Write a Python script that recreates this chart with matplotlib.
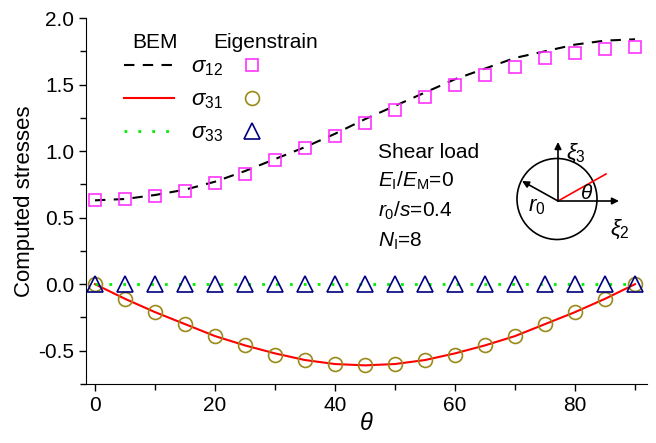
import numpy as np
import matplotlib.pyplot as plt
from matplotlib.lines import Line2D
from matplotlib.patches import Ellipse
from matplotlib.ticker import MultipleLocator

plt.rcParams['font.family'] = ['Liberation Sans', 'DejaVu Sans']
plt.rcParams['mathtext.fontset'] = 'custom'
plt.rcParams['mathtext.rm'] = 'Liberation Sans'
plt.rcParams['mathtext.it'] = 'Liberation Sans:italic'

# angles (deg)
theta = [0, 5, 10, 15, 20, 25, 30, 35, 40, 45, 50, 55, 60, 65, 70, 75, 80, 85, 90]

# BEM curves
bem_s12 = [0.63, 0.64, 0.67, 0.71, 0.77, 0.85, 0.94, 1.03, 1.13, 1.24, 1.34, 1.44,
           1.54, 1.62, 1.70, 1.75, 1.80, 1.83, 1.84]
bem_s31 = [0.0, -0.11, -0.21, -0.30, -0.39, -0.46, -0.52, -0.57, -0.60, -0.61, -0.60,
           -0.57, -0.52, -0.46, -0.39, -0.30, -0.21, -0.11, 0.0]
bem_s33 = [0.0] * 19

# Eigenstrain points
eig_s12 = [0.63, 0.64, 0.66, 0.70, 0.76, 0.83, 0.93, 1.02, 1.11, 1.21, 1.31, 1.41,
           1.50, 1.57, 1.63, 1.70, 1.74, 1.77, 1.78]
eig_s31 = [0.0, -0.11, -0.21, -0.30, -0.39, -0.46, -0.53, -0.57, -0.60, -0.61, -0.60,
           -0.57, -0.53, -0.46, -0.39, -0.30, -0.21, -0.11, 0.0]
eig_s33 = [0.0] * 19

W, H = 656, 443
fig = plt.figure(figsize=(W / 100, H / 100), dpi=100)
ax = fig.add_axes([86 / W, 1 - 384 / H, (647 - 86) / W, (384 - 18) / H])

def px(x, y):
    return (x / W, 1 - y / H)

c_sq = '#ff33ff'
c_ci = '#9a8a1a'
c_tr = '#000080'
fs = 15

ax.plot(theta, bem_s12, color='black', ls=(0, (5, 4)), lw=1.5)
ax.plot(theta, bem_s31, color='red', lw=1.5)
ax.plot(theta, bem_s33, color='#00ee00', ls=(0, (1, 4)), lw=2)
ax.plot(theta, eig_s12, ls='none', marker='s', ms=9, mfc='none', mec=c_sq, mew=1.2)
ax.plot(theta, eig_s31, ls='none', marker='o', ms=10, mfc='none', mec=c_ci, mew=1.2)
ax.plot(theta, eig_s33, ls='none', marker='^', ms=11, mfc='none', mec=c_tr, mew=1.2)

ax.set_xlim(-1.5, 92)
ax.set_ylim(-0.75, 2.0)
ax.xaxis.set_major_locator(MultipleLocator(20))
ax.xaxis.set_minor_locator(MultipleLocator(10))
ax.yaxis.set_major_locator(MultipleLocator(0.5))
ax.yaxis.set_minor_locator(MultipleLocator(0.25))
ax.yaxis.set_major_formatter(plt.FuncFormatter(lambda v, p: f'{v:.1f}'))
ax.spines['top'].set_visible(False)
ax.spines['right'].set_visible(False)
ax.tick_params(which='both', direction='out', labelsize=fs, width=1)
ax.tick_params(which='major', length=5)
ax.tick_params(which='minor', length=4)
ax.set_xlabel(r'$\theta$', fontsize=17, labelpad=-1)
ax.set_ylabel('Computed stresses', fontsize=16, labelpad=2)

# legend drawn by hand
fig.text(*px(155, 43), 'BEM', fontsize=fs, ha='center', va='center')
fig.text(*px(266, 43), 'Eigenstrain', fontsize=fs, ha='center', va='center')
leg_rows = [
    (65, dict(color='black', ls=(0, (5, 4)), lw=1.5), '12', dict(marker='s', ms=9, mec=c_sq)),
    (98, dict(color='red', lw=1.5), '31', dict(marker='o', ms=10, mec=c_ci)),
    (131, dict(color='#00ee00', ls=(0, (1, 4)), lw=2), '33', dict(marker='^', ms=11, mec=c_tr)),
]
for y, lsty, sub, msty in leg_rows:
    (x0, y0), (x1, _) = px(124, y), px(174, y)
    fig.add_artist(Line2D([x0, x1], [y0, y0], transform=fig.transFigure, **lsty))
    fig.text(*px(191, y + 3), r'$\sigma_{%s}$' % sub, fontsize=16, ha='left', va='center')
    mx, my = px(252, y)
    fig.add_artist(Line2D([mx], [my], transform=fig.transFigure, ls='none',
                          mfc='none', mew=1.2, **msty))

# annotation text
fig.text(*px(378, 152), 'Shear load', fontsize=fs, va='center')
fig.text(*px(378, 181), r'$E_\mathrm{I}/E_\mathrm{M}$=0', fontsize=fs, va='center')
fig.text(*px(378, 211), r'$r_0/s$=0.4', fontsize=fs, va='center')
fig.text(*px(378, 241), r'$N_\mathrm{I}$=8', fontsize=fs, va='center')

# inset sketch
ins = fig.add_axes([500 / W, 1 - 255 / H, 140 / W, 120 / H])
ins.set_xlim(500, 640)
ins.set_ylim(255, 135)
ins.axis('off')
ins.add_patch(Ellipse((557, 199), 80, 81, fill=False, ec='black', lw=1.2))
ap = dict(arrowstyle='-|>', color='black', lw=1.2, mutation_scale=10, shrinkA=0, shrinkB=0)
ins.annotate('', xy=(558, 142), xytext=(558, 201), arrowprops=ap)
ins.annotate('', xy=(619, 201), xytext=(558, 201), arrowprops=ap)
ins.annotate('', xy=(522, 181), xytext=(558, 201), arrowprops=ap)
ins.plot([558, 606], [201, 174], color='red', lw=1.2)
ins.text(566, 153, r'$\xi_3$', fontsize=16, va='center')
ins.text(610, 229, r'$\xi_2$', fontsize=16, va='center')
ins.text(587, 194, r'$\theta$', fontsize=15, ha='center', va='center')
ins.text(537, 207, r'$r_{\mathit{0}}$', fontsize=16, ha='center', va='center')

fig.savefig('out.png', dpi=100)
